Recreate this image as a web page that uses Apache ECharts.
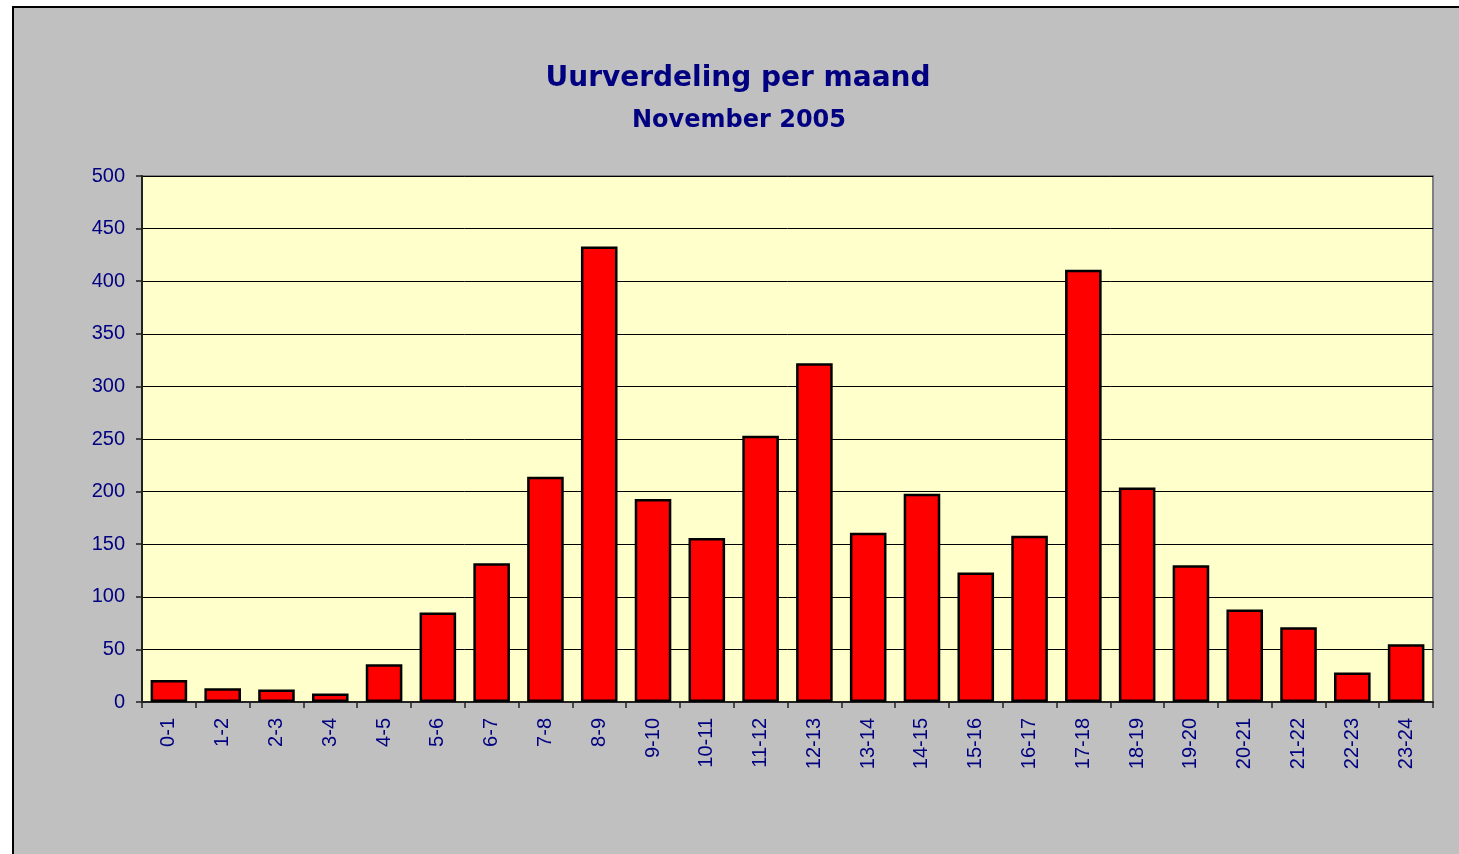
<!DOCTYPE html>
<html>
<head>
<meta charset="utf-8">
<title>Uurverdeling per maand</title>
<script src="https://cdn.jsdelivr.net/npm/echarts@6/dist/echarts.min.js"></script>
<style>
  html, body { margin: 0; padding: 0; background: #fff; overflow: hidden; }
  #chart { width: 1459px; height: 854px; }
</style>
</head>
<body>
<div id="chart"></div>
<script>
const hours = ['0-1', '1-2', '2-3', '3-4', '4-5', '5-6', '6-7', '7-8', '8-9', '9-10', '10-11', '11-12',
  '12-13', '13-14', '14-15', '15-16', '16-17', '17-18', '18-19', '19-20', '20-21', '21-22', '22-23', '23-24'];
const counts = [21, 13, 12, 8, 36, 85, 132, 214, 433, 193, 156, 253,
  322, 161, 198, 123, 158, 411, 204, 130, 88, 71, 28, 55];
const titleText = 'Uurverdeling per maand';
const subtitleText = 'November 2005';

const navy = '#000080';
const chart = echarts.init(document.getElementById('chart'), null, { renderer: 'canvas' });

chart.setOption({
  animation: false,
  backgroundColor: '#ffffff',
  graphic: [
    {
      type: 'rect',
      z: -10,
      shape: { x: 13, y: 7, width: 1460, height: 870 },
      style: { fill: '#C0C0C0', stroke: '#000', lineWidth: 2 },
    },
    {
      type: 'text',
      x: 738, y: 79,
      style: {
        text: titleText, fill: navy, align: 'center', verticalAlign: 'middle',
        font: 'bold 28px "DejaVu Sans"',
      },
    },
    {
      type: 'text',
      x: 739, y: 121,
      style: {
        text: subtitleText, fill: navy, align: 'center', verticalAlign: 'middle',
        font: 'bold 24px "DejaVu Sans"',
      },
    },
  ],
  grid: {
    left: 142, top: 176, width: 1291, height: 526,
    show: true,
    backgroundColor: '#FFFFCC',
    borderColor: '#808080',
    borderWidth: 2,
  },
  xAxis: {
    type: 'category',
    data: hours,
    axisLine: { lineStyle: { color: '#222', width: 2 } },
    axisTick: { show: true, length: 6, lineStyle: { color: '#222', width: 1.5 } },
    axisLabel: {
      rotate: 90, margin: 16, color: navy,
      fontFamily: 'Liberation Sans', fontSize: 20, interval: 0,
    },
  },
  yAxis: {
    type: 'value',
    min: 0, max: 500, interval: 50,
    axisLine: { show: true, lineStyle: { color: '#222', width: 2 } },
    axisTick: { show: true, length: 6, lineStyle: { color: '#222', width: 1.5 } },
    axisLabel: { margin: 17, color: navy, fontFamily: 'Liberation Sans', fontSize: 20 },
    splitLine: { lineStyle: { color: '#000', width: 1 } },
  },
  series: [
    {
      type: 'bar',
      data: counts,
      barCategoryGap: '32%',
      itemStyle: { color: '#FF0000', borderColor: '#000', borderWidth: 2.5 },
    },
  ],
});
</script>
</body>
</html>
